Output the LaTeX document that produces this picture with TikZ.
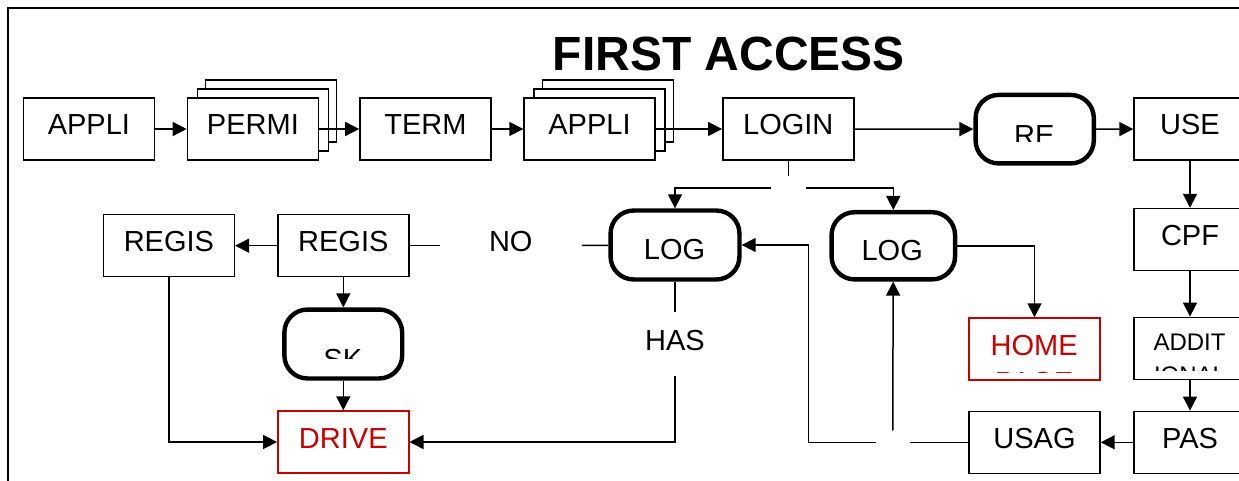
\documentclass[tikz,border=0pt]{standalone}
\usepackage{fontspec}
\setmainfont{Liberation Sans}
\usepackage{xcolor}
\usetikzlibrary{arrows.meta}
\definecolor{darkred}{RGB}{200,0,0}

\begin{document}
\begin{tikzpicture}[x=1pt, y=-1pt,
    box/.style={draw, line width=1.4pt, fill=white, minimum width=131pt, minimum height=62pt,
      inner sep=0pt, text height=21pt, text depth=9pt, font=\fontsize{29}{34}\selectfont},
    redbox/.style={box, draw=darkred, text=darkred},
    pill/.style={draw, line width=4.4pt, rounded corners=23pt, fill=white, inner sep=0pt},
    word/.style={inner sep=0pt, anchor=base, font=\fontsize{29}{34}\selectfont},
    gap/.style={inner sep=0pt, text height=21pt, text depth=9pt, font=\fontsize{29}{34}\selectfont},
    link/.style={line width=1.5pt},
    arr/.style={link, -{Triangle[length=14pt, width=14pt]}}]
\useasboundingbox (0,0) rectangle (1239,481);
\clip (0,0) rectangle (1239,481);
\draw[line width=2.3pt] (8,500) -- (8,8) -- (1260,8);
\node[word, font=\fontsize{48}{56}\selectfont\bfseries] (title) at (729,71) {FIRST ACCESS};

\node[box] (appli) at (88.9,129) {APPLI};
\node[box] (permic) at (271.2,111) {};
\node[box] (permib) at (263,120) {};
\node[box] (permi) at (252.9,129) {PERMI};
\node[box] (term) at (425.4,129) {TERM};
\node[box] (applic) at (607.9,111) {};
\node[box] (applib) at (599.5,120) {};
\node[box] (applii) at (589.5,129) {APPLI};
\node[box] (login) at (788.3,129) {LOGIN};
\node[pill, minimum width=118.2pt, minimum height=68.5pt] (re) at (1034.7,129.2) {};
\begin{scope}
  \clip (975,95) rectangle (1095,141.7);
  \node[word] (retext) at (1034.2,145.8) {RE};
\end{scope}
\node[box, minimum width=112pt] (use) at (1190,129) {USE};
\node[inner sep=0pt, minimum width=35pt, minimum height=24pt] (split) at (788.3,188) {};

\node[box] (regisb) at (168.9,245.7) {REGIS};
\node[box] (regis) at (343.3,245.7) {REGIS};
\node[gap, minimum width=141.7pt] (no) at (510.8,245.7) {NO};
\node[pill, minimum width=128.9pt, minimum height=68.9pt] (loga) at (675,245) {};
\node[word] (logatext) at (674.5,259.3) {LOG};
\node[pill, minimum width=123.5pt, minimum height=67.2pt] (logb) at (893.3,245.8) {};
\node[word] (logbtext) at (892.2,260.7) {LOG};
\node[box, minimum width=112pt] (cpf) at (1190,239.5) {CPF};

\node[pill, minimum width=117.8pt, minimum height=68.9pt] (sk) at (343.3,344) {};
\begin{scope}
  \clip (290,310) rectangle (400,358.3);
  \node[word] (sktext) at (342.8,369.1) {SK};
\end{scope}
\node[gap, minimum height=63.3pt] (has) at (675,344.3) {HAS};
\node[redbox] (home) at (1034.5,349) {};
\begin{scope}
  \clip (970,318) rectangle (1099,372.6);
  \node[word, text=darkred] (hometext) at (1034.2,355) {HOME};
  \node[word, text=darkred] (homemore) at (1034.2,392.5) {PAGE};
\end{scope}
\node[box, minimum width=112pt] (addit) at (1190,348.3) {};
\begin{scope}
  \clip (1135,318) rectangle (1245,370);
  \node[word, font=\fontsize{24}{28}\selectfont] (additext) at (1189.5,350) {ADDIT};
  \node[word, font=\fontsize{24}{28}\selectfont] (additmore) at (1190,383.9) {IONAL};
\end{scope}

\node[redbox] (drive) at (343.3,442) {DRIVE};
\node[box] (usag) at (1034.5,442.3) {USAG};
\node[box, minimum width=112pt] (pas) at (1190,442.3) {PAS};
\node[inner sep=0pt, minimum width=34pt, minimum height=23pt] (splitb) at (892.7,442.3) {};
\coordinate (turn) at (808.3,442.3);

\draw[arr] (appli) -- (permi);
\draw[arr] (permi) -- (term);
\draw[arr] (term) -- (applii);
\draw[arr] (applii) -- (login);
\draw[arr] (login) -- (re);
\draw[arr] (re) -- (use);
\draw[link] (login) -- (split);
\draw[arr] (split.west) -| (loga);
\draw[arr] (split.east) -| (logb);
\draw[link] (loga) -- (no);
\draw[link] (no) -- (regis);
\draw[arr] (regis) -- (regisb);
\draw[arr] (regis) -- (sk);
\draw[arr] (sk) -- (drive);
\draw[arr] (regisb) |- (drive);
\draw[link] (loga) -- (has);
\draw[arr] (has) |- (drive);
\draw[arr] (logb) -| (home);
\draw[arr] (use) -- (cpf);
\draw[arr] (cpf) -- (addit);
\draw[arr] (addit) -- (pas);
\draw[arr] (pas) -- (usag);
\draw[link] (usag) -- (splitb);
\draw[arr] (splitb.west) -- (turn) |- (loga);
\draw[arr] (splitb) -- (logb);
\end{tikzpicture}
\end{document}
